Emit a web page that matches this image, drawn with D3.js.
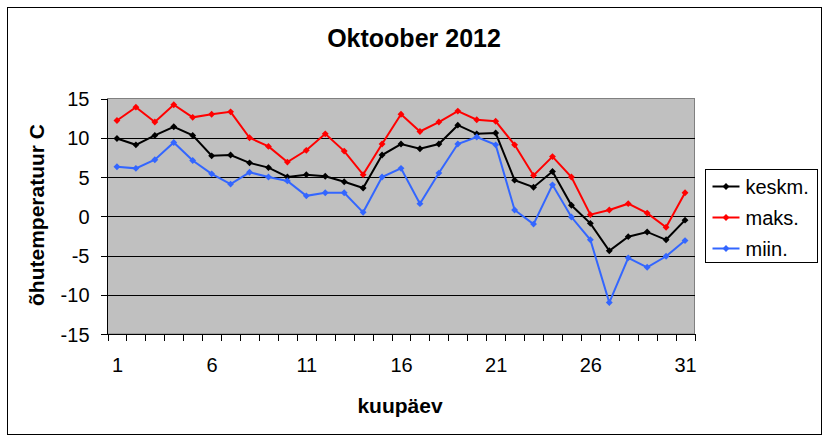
<html lang="et">
<head>
<meta charset="utf-8">
<title>Oktoober 2012</title>
<style>
	body { margin: 0; background-color: white; }
	svg { display: block; background-color: white; font-family: Arial, "Liberation Sans", sans-serif; }
	.axis path { display: none; }
	.axis line { stroke: black; shape-rendering: crispEdges; }
	.axis text { font-size: 20px; fill: black; font-family: Arial, "Liberation Sans", sans-serif; }
	.grid line { stroke: black; shape-rendering: crispEdges; }
</style>
</head>
<body>
<script src="https://cdnjs.cloudflare.com/ajax/libs/d3/7.8.5/d3.min.js"></script>
<script>
var days = [1,2,3,4,5,6,7,8,9,10,11,12,13,14,15,16,17,18,19,20,21,22,23,24,25,26,27,28,29,30,31];
var dayLabels = [1, 6, 11, 16, 21, 26, 31];
var yTicks = [-15, -10, -5, 0, 5, 10, 15];

var keskm = [9.9, 9.1, 10.3, 11.4, 10.3, 7.7, 7.8, 6.8, 6.2, 5.0, 5.3, 5.1, 4.4, 3.6, 7.8, 9.2, 8.6, 9.2, 11.6, 10.5, 10.6, 4.6, 3.7, 5.7, 1.4, -0.9, -4.4, -2.6, -2.0, -3.0, -0.5];
var maks = [12.2, 13.9, 12.0, 14.2, 12.6, 13.0, 13.3, 10.0, 8.9, 6.9, 8.4, 10.5, 8.3, 5.3, 9.2, 13.0, 10.8, 12.0, 13.4, 12.3, 12.1, 9.1, 5.2, 7.6, 5.0, 0.2, 0.8, 1.6, 0.4, -1.4, 3.0];
var miin = [6.3, 6.1, 7.2, 9.4, 7.1, 5.4, 4.1, 5.6, 5.0, 4.5, 2.6, 3.0, 3.0, 0.5, 5.0, 6.1, 1.6, 5.5, 9.2, 10.1, 9.1, 0.8, -1.0, 4.0, -0.1, -3.0, -11.0, -5.3, -6.5, -5.1, -3.1];

var seriesNames = ["keskm.", "maks.", "miin."];
var seriesColors = ["#000000", "#ff0000", "#3366ff"];
var seriesValues = [keskm, maks, miin];

var fullwidth = 828, fullheight = 441;
var plot = { left: 107.5, right: 694.5, top: 98.5, bottom: 334 };

var svg = d3.select("body").append("svg")
	.attr("width", fullwidth)
	.attr("height", fullheight);

// outer frame
svg.append("rect")
	.attr("x", 7.5).attr("y", 7.5)
	.attr("width", 814).attr("height", 427)
	.attr("fill", "white").attr("stroke", "black").attr("stroke-width", 1);

var xScale = d3.scaleLinear().domain([0.5, 31.5]).range([plot.left, plot.right]);
var yScale = d3.scaleLinear().domain([-15, 15]).range([plot.bottom, plot.top]);

// plot background
svg.append("rect")
	.attr("x", plot.left).attr("y", plot.top)
	.attr("width", plot.right - plot.left).attr("height", plot.bottom - plot.top)
	.attr("fill", "#c0c0c0").attr("stroke", "#808080").attr("stroke-width", 1);

// gridlines
svg.append("g")
	.attr("class", "grid")
	.attr("transform", "translate(" + plot.left + ",0)")
	.call(d3.axisRight(yScale).tickValues([-10, -5, 0, 5, 10]).tickSize(plot.right - plot.left).tickFormat(""))
	.select(".domain").remove();

// y axis (plain hyphen for negatives, like the original)
var yAxis = svg.append("g")
	.attr("class", "axis")
	.attr("transform", "translate(" + plot.left + ",0)")
	.call(d3.axisLeft(yScale).tickValues(yTicks).tickSize(7).tickPadding(11)
		.tickFormat(function(d) { return String(d); }));
yAxis.selectAll("text").attr("dy", "0.36em");
svg.append("line")
	.attr("x1", plot.left).attr("x2", plot.left)
	.attr("y1", plot.top).attr("y2", plot.bottom)
	.attr("stroke", "black").style("shape-rendering", "crispEdges");

// x axis: ticks at the day boundaries, labels on the days
svg.append("g")
	.attr("class", "axis")
	.attr("transform", "translate(0," + plot.bottom + ")")
	.call(d3.axisBottom(xScale).tickValues(days.map(function(d) { return d - 0.5; }).concat([31.5])).tickSize(7).tickFormat(""));
svg.append("g")
	.attr("class", "axis")
	.attr("transform", "translate(0," + plot.bottom + ")")
	.call(d3.axisBottom(xScale).tickValues(dayLabels).tickSize(0).tickPadding(24)
		.tickFormat(function(d) { return String(d); }));
svg.append("line")
	.attr("x1", plot.left).attr("x2", plot.right)
	.attr("y1", plot.bottom).attr("y2", plot.bottom)
	.attr("stroke", "black").style("shape-rendering", "crispEdges");

// lines and markers
var line = d3.line()
	.x(function(d, i) { return xScale(days[i]); })
	.y(function(d) { return yScale(d); });

var diamond = d3.symbol().type(d3.symbolDiamond2).size(30);

seriesValues.forEach(function(vals, s) {
	svg.append("path")
		.datum(vals)
		.attr("d", line)
		.attr("fill", "none")
		.attr("stroke", seriesColors[s])
		.attr("stroke-width", 2);

	svg.selectAll(".pt" + s)
		.data(vals)
		.enter().append("path")
		.attr("class", "pt" + s)
		.attr("d", diamond)
		.attr("transform", function(d, i) { return "translate(" + xScale(days[i]) + "," + yScale(d) + ")"; })
		.attr("fill", seriesColors[s]);
});

// title
svg.append("text")
	.attr("x", 414).attr("y", 47)
	.attr("text-anchor", "middle")
	.style("font-size", "25px").style("font-weight", "bold")
	.text("Oktoober 2012");

// axis titles
svg.append("text")
	.attr("x", 400).attr("y", 413)
	.attr("text-anchor", "middle")
	.style("font-size", "21px").style("font-weight", "bold")
	.text("kuupäev");

svg.append("text")
	.attr("transform", "translate(44,215) rotate(-90)")
	.attr("text-anchor", "middle")
	.style("font-size", "21px").style("font-weight", "bold")
	.text("õhutemperatuur C");

// legend
var legend = svg.append("g").attr("transform", "translate(705.5,169.5)");
legend.append("rect")
	.attr("width", 112).attr("height", 93)
	.attr("fill", "white").attr("stroke", "black");

var rows = legend.selectAll(".row")
	.data(seriesNames)
	.enter().append("g")
	.attr("class", "row")
	.attr("transform", function(d, i) { return "translate(0," + (17 + i * 31) + ")"; });

rows.append("line")
	.attr("x1", 7).attr("x2", 34)
	.attr("stroke", function(d, i) { return seriesColors[i]; })
	.attr("stroke-width", 2);
rows.append("path")
	.attr("d", diamond)
	.attr("transform", "translate(20.5,0)")
	.attr("fill", function(d, i) { return seriesColors[i]; });
rows.append("text")
	.attr("x", 40).attr("dy", "0.36em")
	.style("font-size", "20px")
	.text(function(d) { return d; });
</script>
</body>
</html>
